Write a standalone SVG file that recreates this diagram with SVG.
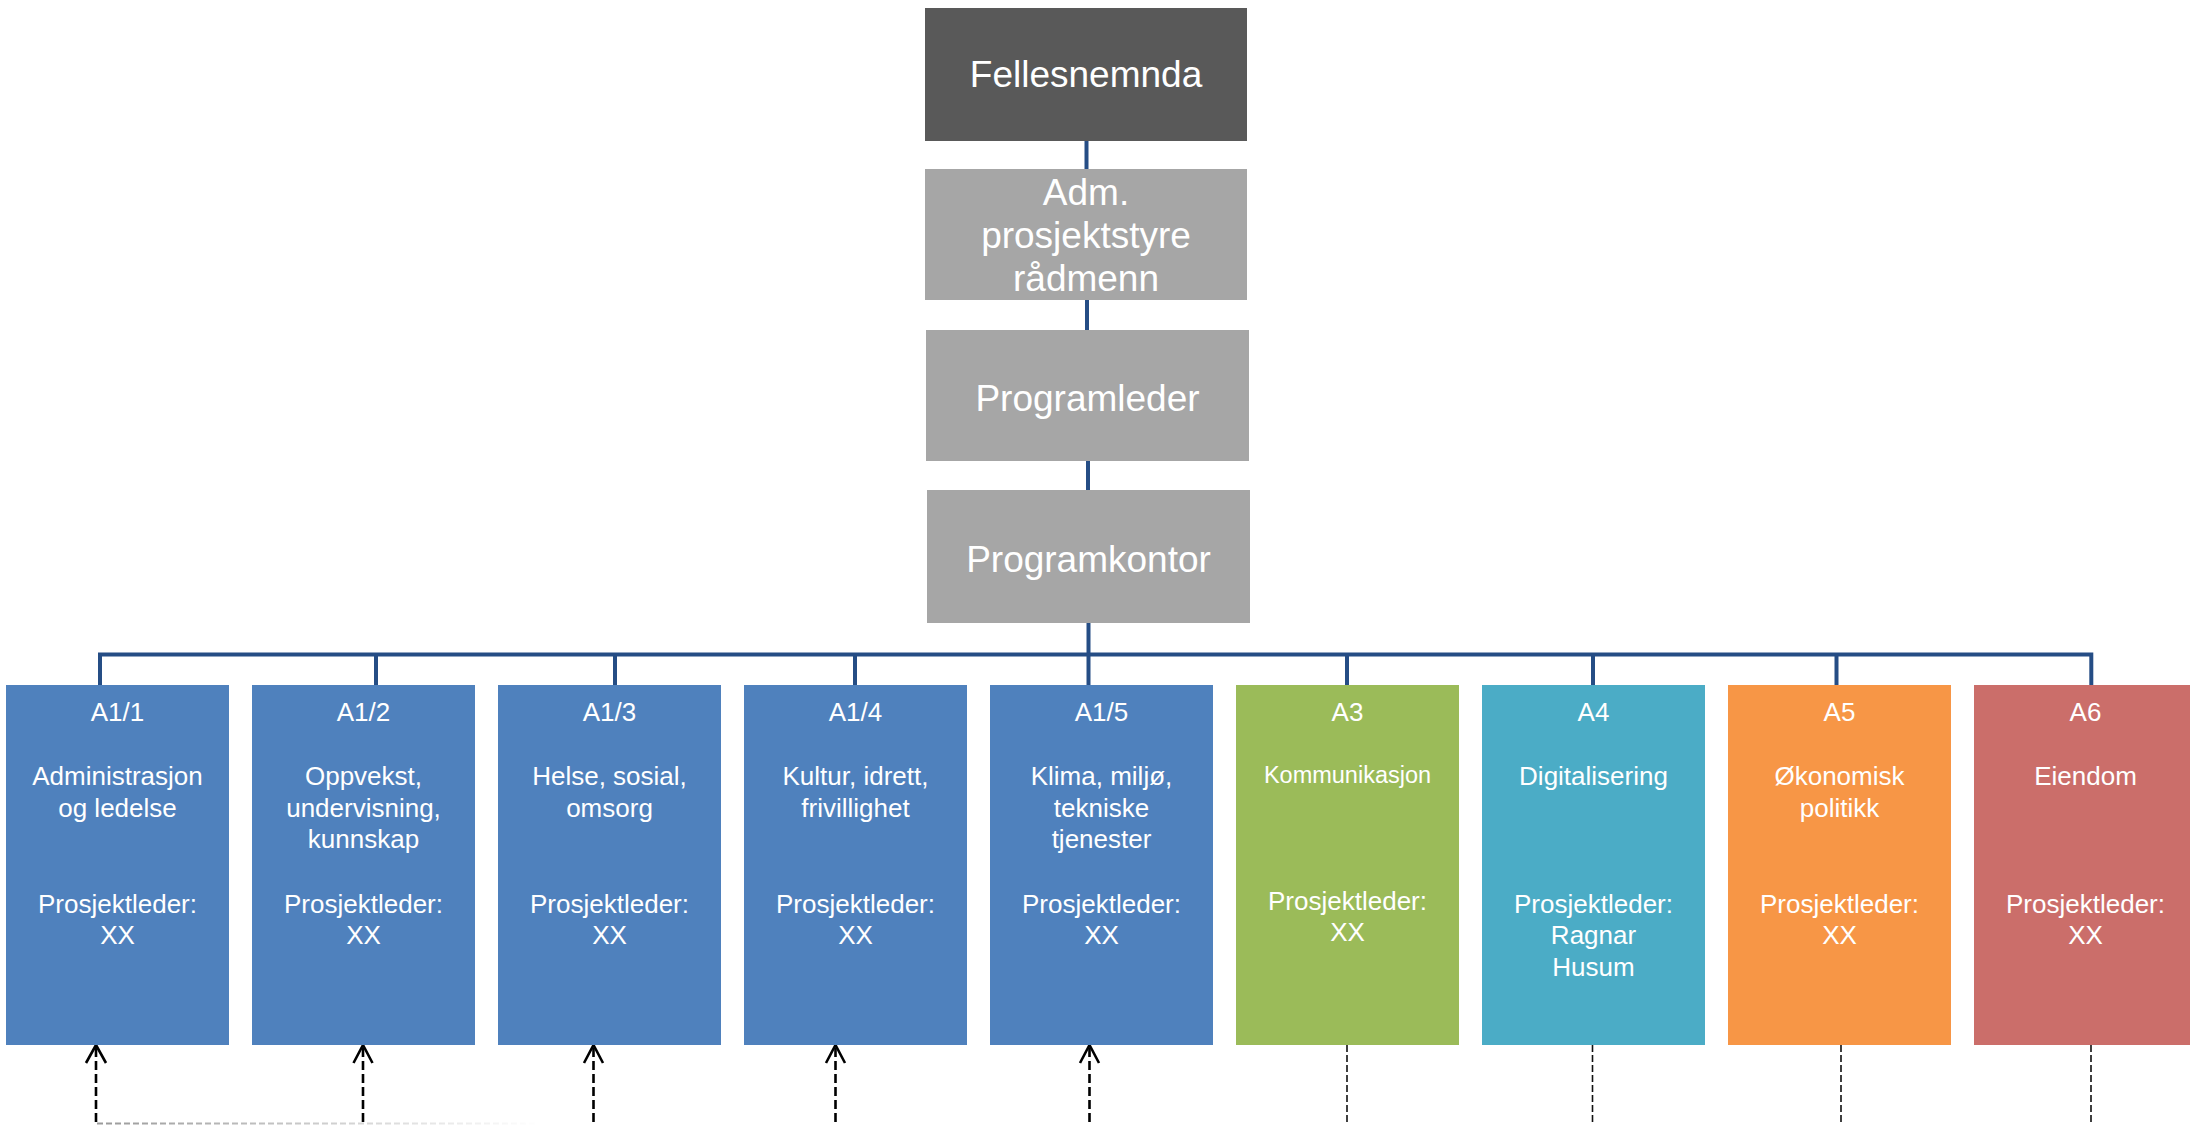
<svg xmlns="http://www.w3.org/2000/svg" width="2190" height="1125" viewBox="0 0 2190 1125">
  <style>
    .t { font-family: "Liberation Sans", Arial, sans-serif; fill: #ffffff; text-anchor: middle; }
    .top { font-size: 37px; }
    .sm { font-size: 26px; }
    .xs { font-size: 23.5px; }
    .conn { stroke: #254D85; stroke-width: 4; fill: none; }
    .dash { stroke: #000000; stroke-width: 2.6; fill: none; stroke-dasharray: 9 4; }
    .dash2 { stroke: #111111; stroke-width: 1.6; fill: none; stroke-dasharray: 7 3; }
    .arr { stroke: #000000; stroke-width: 2.6; fill: none; }
  </style>
  <defs>
    <linearGradient id="fade" gradientUnits="userSpaceOnUse" x1="96" y1="0" x2="540" y2="0">
      <stop offset="0" stop-color="#9a9a9a"/>
      <stop offset="1" stop-color="#ffffff"/>
    </linearGradient>
  </defs>
  <rect width="2190" height="1125" fill="#ffffff"/>

  <g id="connectors">
    <line class="conn" x1="1086.5" y1="140" x2="1086.5" y2="170"/>
    <line class="conn" x1="1087" y1="300" x2="1087" y2="331"/>
    <line class="conn" x1="1088" y1="461" x2="1088" y2="491"/>
    <line class="conn" x1="1088.5" y1="623" x2="1088.5" y2="686"/>
    <polyline class="conn" points="100,686 100,654.5 2091.3,654.5 2091.3,686"/>
    <line class="conn" x1="376" y1="654" x2="376" y2="686"/>
    <line class="conn" x1="615" y1="654" x2="615" y2="686"/>
    <line class="conn" x1="855" y1="654" x2="855" y2="686"/>
    <line class="conn" x1="1347" y1="654" x2="1347" y2="686"/>
    <line class="conn" x1="1593" y1="654" x2="1593" y2="686"/>
    <line class="conn" x1="1836.5" y1="654" x2="1836.5" y2="686"/>

    <!-- dashed upward arrows to A1/x -->
    <line class="dash" x1="96" y1="1048" x2="96" y2="1124"/>
    <polyline class="arr" points="86,1063 96,1045 106,1063"/>
    <line class="dash" x1="363" y1="1048" x2="363" y2="1125"/>
    <polyline class="arr" points="353.5,1063 363,1045 372.5,1063"/>
    <line class="dash" x1="593.5" y1="1048" x2="593.5" y2="1125"/>
    <polyline class="arr" points="584,1063 593.5,1045 603,1063"/>
    <line class="dash" x1="835.5" y1="1048" x2="835.5" y2="1125"/>
    <polyline class="arr" points="826,1063 835.5,1045 845,1063"/>
    <line class="dash" x1="1089.5" y1="1048" x2="1089.5" y2="1125"/>
    <polyline class="arr" points="1080,1063 1089.5,1045 1099,1063"/>
    <line x1="97" y1="1123.5" x2="545" y2="1123.5" stroke="url(#fade)" stroke-width="2" stroke-dasharray="6 3"/>

    <!-- dashed lines from A3..A6 -->
    <line class="dash2" x1="1347" y1="1045" x2="1347" y2="1125"/>
    <line class="dash2" x1="1592.5" y1="1045" x2="1592.5" y2="1125"/>
    <line class="dash2" x1="1841" y1="1045" x2="1841" y2="1125"/>
    <line class="dash2" x1="2091" y1="1045" x2="2091" y2="1125"/>
  </g>

  <g id="fellesnemnda">
    <rect x="925" y="8" width="322" height="133" fill="#595959"/>
    <text class="t top" x="1086" y="87">Fellesnemnda</text>
  </g>
  <g id="adm-prosjektstyre">
    <rect x="925" y="169" width="322" height="131" fill="#A6A6A6"/>
    <text class="t top" x="1086" y="205">Adm.</text>
    <text class="t top" x="1086" y="248">prosjektstyre</text>
    <text class="t top" x="1086" y="291">rådmenn</text>
  </g>
  <g id="programleder">
    <rect x="926" y="330" width="323" height="131" fill="#A6A6A6"/>
    <text class="t top" x="1087.5" y="411">Programleder</text>
  </g>
  <g id="programkontor">
    <rect x="927" y="490" width="323" height="133" fill="#A6A6A6"/>
    <text class="t top" x="1088.5" y="572">Programkontor</text>
  </g>

  <g id="a1-1">
    <rect x="6" y="685" width="223" height="360" fill="#4F81BD"/>
    <text class="t sm" x="117.5" y="721">A1/1</text>
    <text class="t sm" x="117.5" y="785">Administrasjon</text>
    <text class="t sm" x="117.5" y="817">og ledelse</text>
    <text class="t sm" x="117.5" y="913">Prosjektleder:</text>
    <text class="t sm" x="117.5" y="944">XX</text>
  </g>
  <g id="a1-2">
    <rect x="252" y="685" width="223" height="360" fill="#4F81BD"/>
    <text class="t sm" x="363.5" y="721">A1/2</text>
    <text class="t sm" x="363.5" y="785">Oppvekst,</text>
    <text class="t sm" x="363.5" y="817">undervisning,</text>
    <text class="t sm" x="363.5" y="848">kunnskap</text>
    <text class="t sm" x="363.5" y="913">Prosjektleder:</text>
    <text class="t sm" x="363.5" y="944">XX</text>
  </g>
  <g id="a1-3">
    <rect x="498" y="685" width="223" height="360" fill="#4F81BD"/>
    <text class="t sm" x="609.5" y="721">A1/3</text>
    <text class="t sm" x="609.5" y="785">Helse, sosial,</text>
    <text class="t sm" x="609.5" y="817">omsorg</text>
    <text class="t sm" x="609.5" y="913">Prosjektleder:</text>
    <text class="t sm" x="609.5" y="944">XX</text>
  </g>
  <g id="a1-4">
    <rect x="744" y="685" width="223" height="360" fill="#4F81BD"/>
    <text class="t sm" x="855.5" y="721">A1/4</text>
    <text class="t sm" x="855.5" y="785">Kultur, idrett,</text>
    <text class="t sm" x="855.5" y="817">frivillighet</text>
    <text class="t sm" x="855.5" y="913">Prosjektleder:</text>
    <text class="t sm" x="855.5" y="944">XX</text>
  </g>
  <g id="a1-5">
    <rect x="990" y="685" width="223" height="360" fill="#4F81BD"/>
    <text class="t sm" x="1101.5" y="721">A1/5</text>
    <text class="t sm" x="1101.5" y="785">Klima, miljø,</text>
    <text class="t sm" x="1101.5" y="817">tekniske</text>
    <text class="t sm" x="1101.5" y="848">tjenester</text>
    <text class="t sm" x="1101.5" y="913">Prosjektleder:</text>
    <text class="t sm" x="1101.5" y="944">XX</text>
  </g>
  <g id="a3">
    <rect x="1236" y="685" width="223" height="360" fill="#9BBB59"/>
    <text class="t sm" x="1347.5" y="721">A3</text>
    <text class="t xs" x="1347.5" y="783">Kommunikasjon</text>
    <text class="t sm" x="1347.5" y="910">Prosjektleder:</text>
    <text class="t sm" x="1347.5" y="941">XX</text>
  </g>
  <g id="a4">
    <rect x="1482" y="685" width="223" height="360" fill="#4BACC6"/>
    <text class="t sm" x="1593.5" y="721">A4</text>
    <text class="t sm" x="1593.5" y="785">Digitalisering</text>
    <text class="t sm" x="1593.5" y="913">Prosjektleder:</text>
    <text class="t sm" x="1593.5" y="944">Ragnar</text>
    <text class="t sm" x="1593.5" y="976">Husum</text>
  </g>
  <g id="a5">
    <rect x="1728" y="685" width="223" height="360" fill="#F79646"/>
    <text class="t sm" x="1839.5" y="721">A5</text>
    <text class="t sm" x="1839.5" y="785">Økonomisk</text>
    <text class="t sm" x="1839.5" y="817">politikk</text>
    <text class="t sm" x="1839.5" y="913">Prosjektleder:</text>
    <text class="t sm" x="1839.5" y="944">XX</text>
  </g>
  <g id="a6">
    <rect x="1974" y="685" width="223" height="360" fill="#CB6E6A"/>
    <text class="t sm" x="2085.5" y="721">A6</text>
    <text class="t sm" x="2085.5" y="785">Eiendom</text>
    <text class="t sm" x="2085.5" y="913">Prosjektleder:</text>
    <text class="t sm" x="2085.5" y="944">XX</text>
  </g>
</svg>
